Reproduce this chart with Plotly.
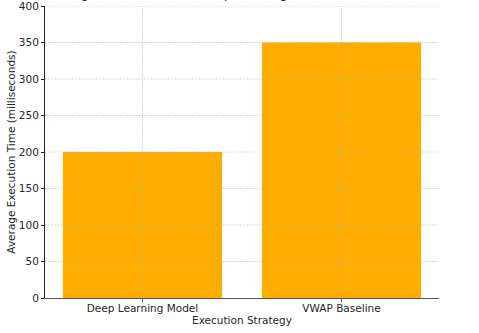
import plotly.graph_objects as go

strategies = ["Deep Learning Model", "VWAP Baseline"]
avg_exec_ms = [200, 350]
y_ticks = [0, 50, 100, 150, 200, 250, 300, 350, 400]

bar_color = "#FFAE00"
grid_color = "rgba(170,170,170,0.6)"
font_family = "DejaVu Sans"

fig = go.Figure(
    go.Bar(
        x=strategies,
        y=avg_exec_ms,
        marker=dict(color=bar_color, line=dict(width=0)),
        width=0.8,
    )
)

# grid drawn over the bars, as in the original style
shapes = []
for v in y_ticks[1:]:
    shapes.append(dict(type="line", xref="paper", x0=0, x1=1, yref="y", y0=v, y1=v,
                       line=dict(color=grid_color, width=0.8, dash="2px,1px"), layer="above"))
for s in strategies:
    shapes.append(dict(type="line", xref="x", x0=s, x1=s, yref="paper", y0=0, y1=1,
                       line=dict(color=grid_color, width=0.8, dash="2px,1px"), layer="above"))

fig.update_layout(
    width=479,
    height=333,
    margin=dict(l=45, r=40, t=6, b=35),
    plot_bgcolor="white",
    paper_bgcolor="white",
    font=dict(family=font_family, size=10.5, color="#262626"),
    showlegend=False,
    shapes=shapes,
    annotations=[
        dict(text="Average Execution Time: Deep Learning Model vs VWAP Baseline",
             xref="paper", yref="paper", x=0.5, y=1, yshift=3, xanchor="center",
             yanchor="bottom", showarrow=False,
             font=dict(family=font_family, size=12, color="#262626")),
    ],
)

fig.update_xaxes(
    type="category",
    range=[-0.49, 1.49],
    automargin=False,
    showgrid=False,
    showline=True,
    linecolor="#555555",
    linewidth=1,
    ticks="outside",
    ticklen=3,
    tickcolor="#555555",
    ticklabelstandoff=-3,
    title=dict(text="Execution Strategy", standoff=0, font=dict(size=10.5)),
    tickfont=dict(size=10.5),
    zeroline=False,
)

fig.update_yaxes(
    range=[0, 400],
    tickvals=y_ticks,
    automargin=False,
    ticklabeloverflow="allow",
    showgrid=False,
    showline=True,
    linecolor="#222222",
    linewidth=1,
    ticks="outside",
    ticklen=3,
    tickcolor="#222222",
    title=dict(text="Average Execution Time (milliseconds)", standoff=1, font=dict(size=10.5)),
    tickfont=dict(size=10.5),
    zeroline=False,
)

fig.write_html("out.html")
